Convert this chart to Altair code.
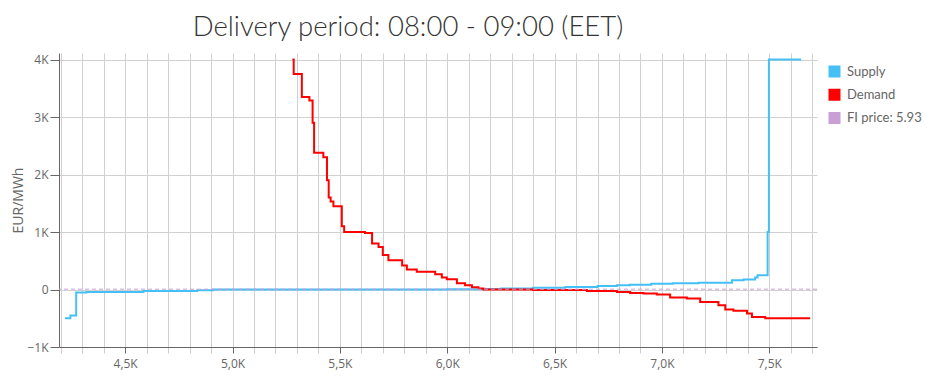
import altair as alt
import pandas as pd

# ---- data ----
supply_x = [4220, 4245, 4272, 4320, 4585, 4835, 4910, 5900, 6000, 6170, 6250, 6400,
            6550, 6700, 6790, 6850, 6950, 7050, 7170, 7326, 7380, 7434, 7445, 7492,
            7498, 7648]
supply_y = [-500, -450, -52, -42, -25, -12, 0, 2, 5, 10, 17, 30,
            45, 60, 75, 85, 100, 110, 120, 160, 175, 210, 250, 1000,
            4000, 4000]

demand_x = [5279, 5285, 5323, 5358, 5373, 5380, 5423, 5440, 5448, 5457, 5470, 5509,
            5520, 5617, 5650, 5680, 5700, 5726, 5790, 5812, 5858, 5944, 5975, 5998,
            6045, 6083, 6115, 6145, 6169, 6400, 6650, 6790, 6852, 6914, 6976, 7038,
            7116, 7178, 7263, 7295, 7333, 7396, 7419, 7481, 7690]
demand_y = [4000, 3750, 3350, 3290, 2900, 2380, 2300, 1900, 1600, 1530, 1450, 1100,
            1000, 985, 800, 740, 600, 510, 420, 350, 310, 265, 210, 178,
            110, 75, 40, 17, 0, -10, -24, -42, -59, -70, -87, -139,
            -157, -215, -273, -348, -371, -417, -476, -500, -500]

fi_price = 5.93
series_names = ["Supply", "Demand", "FI price: 5.93"]
series_colors = ["#45c0f7", "#ff0000", "#c99fd6"]
x_ticks = list(range(4200, 7701, 100))
y_ticks = [-1000, 0, 1000, 2000, 3000, 4000]
title_text = "Delivery period: 08:00 - 09:00 (EET)"

curves = pd.DataFrame({
    "volume": supply_x + demand_x,
    "price": supply_y + demand_y,
    "series": ["Supply"] * len(supply_x) + ["Demand"] * len(demand_x),
})
price_df = pd.DataFrame({"price": [fi_price], "series": [series_names[2]]})

color_scale = alt.Scale(domain=series_names, range=series_colors)
legend = alt.Legend(
    title=None, orient="none", legendX=769, legendY=12,
    symbolType="square", symbolSize=36, symbolStrokeWidth=6,
    symbolDash=[100, 0],
    labelFontSize=13, labelColor="#666666", labelFont="Lato",
    rowPadding=-7.7, labelOffset=6, padding=0,
)

x_enc = alt.X(
    "volume:Q",
    scale=alt.Scale(domain=[4192, 7722], nice=False, zero=False),
    axis=alt.Axis(
        title=None, values=x_ticks, labelOverlap=False,
        labelExpr="datum.value % 500 === 0 ? replace(format(datum.value / 1000, '.1f'), '.', ',') + 'K' : ''",
        tickColor={"condition": {"test": "datum.value % 500 === 0", "value": "#666666"}, "value": "#cccccc"},
        tickSize=6, labelPadding=5,
    ),
)
y_enc = alt.Y(
    "price:Q",
    scale=alt.Scale(domain=[-1000, 4115], nice=False, zero=False),
    axis=alt.Axis(
        title="EUR/MWh", values=y_ticks, labelOverlap=False,
        labelExpr="datum.value === 0 ? '0' : format(datum.value / 1000, 'd') + 'K'",
        tickSize=9, labelPadding=2,
        titleX=-41, titleY=147, titleBaseline="middle", titleAlign="center",
    ),
)

lines = alt.Chart(curves).mark_line(interpolate="step-after", strokeWidth=2).encode(
    x=x_enc,
    y=y_enc,
    color=alt.Color("series:N", scale=color_scale, legend=legend),
)

rule = alt.Chart(price_df).mark_rule(strokeDash=[4, 3], strokeWidth=1).encode(
    y=alt.Y("price:Q"),
    color=alt.Color("series:N", scale=color_scale, legend=legend),
)

chart = (
    alt.layer(lines, rule)
    .properties(
        width=758, height=294,
        autosize=alt.AutoSizeParams(type="none"),
        padding={"left": 51, "top": 45, "right": 105, "bottom": 28},
        title=alt.TitleParams(title_text, fontSize=27.5, font="Lato", fontWeight=300,
                              color="#333333", anchor="middle", dx=-30, offset=12),
    )
    .configure_view(stroke="transparent")
    .configure_axis(
        domainColor="#666666", labelColor="#666666", labelFont="Open Sans",
        labelFontSize=12, titleColor="#666666", titleFont="Open Sans",
        titleFontSize=14, titleFontWeight="normal", gridColor="#d0d0d0",
        tickColor="#666666",
    )
)

chart.save("out.html", embed_options={"renderer": "svg", "actions": False})
